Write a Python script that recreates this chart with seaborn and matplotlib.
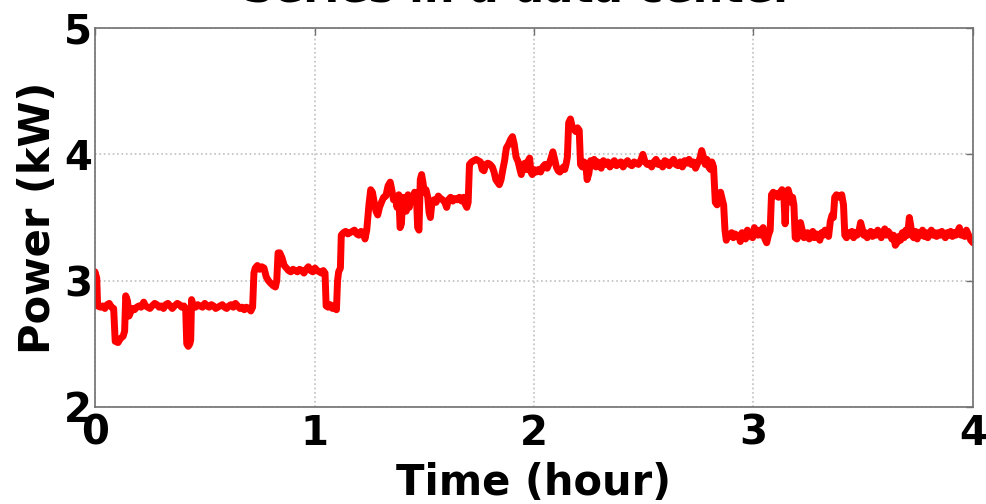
import matplotlib
matplotlib.use("Agg")
import matplotlib.pyplot as plt
import seaborn as sns
import pandas as pd

# Power draw of a server group over four hours
hours = [
    0.000, 0.008, 0.012, 0.025, 0.035, 0.045, 0.055, 0.065, 0.075, 0.085,
    0.092, 0.105, 0.115, 0.128, 0.135, 0.140, 0.148, 0.155, 0.162, 0.170,
    0.180, 0.190, 0.200, 0.210, 0.222, 0.230, 0.240, 0.250, 0.260, 0.272,
    0.282, 0.292, 0.302, 0.312, 0.322, 0.332, 0.342, 0.352, 0.362, 0.375,
    0.385, 0.395, 0.405, 0.413, 0.418, 0.425, 0.432, 0.436, 0.440, 0.448,
    0.458, 0.468, 0.478, 0.490, 0.500, 0.510, 0.520, 0.530, 0.540, 0.550,
    0.560, 0.570, 0.580, 0.590, 0.600, 0.610, 0.620, 0.630, 0.640, 0.650,
    0.660, 0.670, 0.680, 0.690, 0.700, 0.710, 0.718, 0.724, 0.730, 0.740,
    0.750, 0.760, 0.770, 0.780, 0.790, 0.800, 0.812, 0.822, 0.828, 0.834,
    0.842, 0.852, 0.862, 0.872, 0.882, 0.892, 0.902, 0.912, 0.922, 0.932,
    0.942, 0.952, 0.962, 0.972, 0.982, 0.992, 1.002, 1.012, 1.022, 1.032,
    1.040, 1.048, 1.053, 1.062, 1.072, 1.082, 1.092, 1.100, 1.105, 1.110,
    1.118, 1.122, 1.132, 1.142, 1.152, 1.162, 1.172, 1.182, 1.192, 1.202,
    1.212, 1.222, 1.230, 1.238, 1.248, 1.256, 1.264, 1.272, 1.280, 1.288,
    1.296, 1.305, 1.315, 1.325, 1.335, 1.345, 1.352, 1.360, 1.368, 1.376,
    1.384, 1.390, 1.396, 1.402, 1.410, 1.418, 1.426, 1.432, 1.440, 1.448,
    1.456, 1.464, 1.470, 1.476, 1.482, 1.488, 1.494, 1.500, 1.508, 1.516,
    1.522, 1.528, 1.534, 1.544, 1.554, 1.564, 1.574, 1.584, 1.594, 1.602,
    1.610, 1.620, 1.630, 1.640, 1.650, 1.660, 1.670, 1.680, 1.688, 1.694,
    1.700, 1.706, 1.716, 1.726, 1.736, 1.746, 1.756, 1.764, 1.772, 1.780,
    1.790, 1.800, 1.810, 1.818, 1.826, 1.834, 1.842, 1.850, 1.858, 1.866,
    1.874, 1.884, 1.894, 1.902, 1.910, 1.918, 1.928, 1.936, 1.942, 1.950,
    1.958, 1.966, 1.974, 1.980, 1.986, 1.992, 2.000, 2.010, 2.020, 2.030,
    2.040, 2.050, 2.060, 2.070, 2.078, 2.086, 2.094, 2.102, 2.110, 2.118,
    2.126, 2.134, 2.140, 2.146, 2.152, 2.158, 2.166, 2.174, 2.182, 2.190,
    2.198, 2.206, 2.212, 2.220, 2.228, 2.236, 2.242, 2.250, 2.258, 2.266,
    2.274, 2.282, 2.290, 2.298, 2.306, 2.316, 2.326, 2.336, 2.346, 2.356,
    2.366, 2.376, 2.386, 2.396, 2.406, 2.416, 2.426, 2.436, 2.446, 2.456,
    2.466, 2.476, 2.486, 2.496, 2.506, 2.516, 2.526, 2.536, 2.546, 2.556,
    2.566, 2.576, 2.586, 2.596, 2.606, 2.616, 2.626, 2.636, 2.646, 2.656,
    2.666, 2.676, 2.686, 2.696, 2.706, 2.716, 2.726, 2.736, 2.746, 2.756,
    2.764, 2.772, 2.780, 2.788, 2.796, 2.804, 2.810, 2.818, 2.826, 2.834,
    2.842, 2.850, 2.858, 2.864, 2.870, 2.876, 2.884, 2.892, 2.900, 2.908,
    2.916, 2.924, 2.932, 2.940, 2.948, 2.956, 2.964, 2.972, 2.980, 2.988,
    2.996, 3.004, 3.012, 3.020, 3.028, 3.036, 3.044, 3.052, 3.060, 3.068,
    3.076, 3.082, 3.090, 3.098, 3.106, 3.114, 3.122, 3.130, 3.138, 3.144,
    3.150, 3.158, 3.164, 3.172, 3.178, 3.184, 3.190, 3.198, 3.206, 3.214,
    3.222, 3.230, 3.238, 3.246, 3.254, 3.262, 3.270, 3.278, 3.286, 3.294,
    3.302, 3.310, 3.318, 3.326, 3.334, 3.342, 3.350, 3.358, 3.364, 3.370,
    3.378, 3.386, 3.394, 3.402, 3.410, 3.416, 3.424, 3.432, 3.440, 3.448,
    3.456, 3.464, 3.472, 3.480, 3.488, 3.494, 3.502, 3.510, 3.518, 3.526,
    3.534, 3.542, 3.550, 3.558, 3.566, 3.574, 3.582, 3.590, 3.598, 3.606,
    3.614, 3.622, 3.630, 3.638, 3.646, 3.654, 3.662, 3.670, 3.678, 3.686,
    3.694, 3.702, 3.710, 3.716, 3.722, 3.730, 3.738, 3.746, 3.754, 3.762,
    3.770, 3.778, 3.786, 3.794, 3.802, 3.810, 3.818, 3.826, 3.834, 3.842,
    3.850, 3.858, 3.866, 3.874, 3.882, 3.890, 3.898, 3.906, 3.914, 3.922,
    3.930, 3.938, 3.946, 3.954, 3.962, 3.970, 3.980, 3.990, 4.000,
]

power_kw = [
    3.07, 3.02, 2.80, 2.79, 2.80, 2.78, 2.81, 2.82, 2.79, 2.78,
    2.52, 2.51, 2.54, 2.56, 2.60, 2.88, 2.84, 2.72, 2.75, 2.78,
    2.77, 2.79, 2.80, 2.79, 2.83, 2.80, 2.79, 2.78, 2.80, 2.82,
    2.81, 2.79, 2.80, 2.78, 2.81, 2.82, 2.80, 2.78, 2.80, 2.82,
    2.81, 2.79, 2.80, 2.78, 2.50, 2.48, 2.50, 2.53, 2.85, 2.80,
    2.79, 2.81, 2.80, 2.79, 2.82, 2.80, 2.79, 2.81, 2.80, 2.78,
    2.79, 2.80, 2.81, 2.79, 2.78, 2.80, 2.81, 2.79, 2.82, 2.80,
    2.78, 2.79, 2.77, 2.79, 2.78, 2.76, 2.79, 3.06, 3.10, 3.12,
    3.09, 3.11, 3.10, 3.03, 3.00, 2.98, 2.96, 2.95, 3.00, 3.22,
    3.22, 3.18, 3.12, 3.10, 3.08, 3.07, 3.09, 3.08, 3.07, 3.09,
    3.08, 3.06, 3.09, 3.11, 3.08, 3.07, 3.10, 3.08, 3.07, 3.06,
    3.08, 3.06, 2.80, 2.79, 2.81, 2.78, 2.80, 2.77, 3.00, 3.07,
    3.10, 3.36, 3.38, 3.39, 3.37, 3.38, 3.39, 3.40, 3.37, 3.36,
    3.39, 3.38, 3.33, 3.40, 3.60, 3.72, 3.70, 3.62, 3.55, 3.52,
    3.58, 3.62, 3.66, 3.67, 3.75, 3.78, 3.72, 3.64, 3.66, 3.58,
    3.68, 3.42, 3.45, 3.66, 3.62, 3.55, 3.68, 3.58, 3.66, 3.64,
    3.70, 3.68, 3.42, 3.40, 3.80, 3.84, 3.78, 3.70, 3.72, 3.66,
    3.54, 3.50, 3.60, 3.64, 3.62, 3.67, 3.65, 3.64, 3.62, 3.58,
    3.64, 3.66, 3.63, 3.65, 3.64, 3.66, 3.63, 3.66, 3.60, 3.58,
    3.62, 3.92, 3.94, 3.95, 3.96, 3.95, 3.94, 3.88, 3.87, 3.92,
    3.93, 3.92, 3.90, 3.86, 3.80, 3.78, 3.76, 3.80, 3.88, 3.95,
    4.05, 4.08, 4.12, 4.14, 4.08, 3.98, 3.94, 3.88, 3.84, 3.90,
    3.93, 3.88, 3.95, 3.97, 3.86, 3.84, 3.88, 3.86, 3.88, 3.86,
    3.90, 3.92, 3.89, 3.93, 3.97, 4.02, 3.96, 3.90, 3.87, 3.86,
    3.88, 3.90, 3.88, 3.92, 3.98, 4.25, 4.28, 4.22, 4.20, 4.18,
    4.21, 4.19, 3.92, 3.90, 3.94, 3.92, 3.80, 3.85, 3.95, 3.92,
    3.96, 3.90, 3.94, 3.93, 3.89, 3.95, 3.92, 3.94, 3.90, 3.93,
    3.95, 3.91, 3.93, 3.94, 3.90, 3.93, 3.95, 3.92, 3.91, 3.94,
    3.93, 3.92, 3.95, 4.00, 3.94, 3.92, 3.93, 3.90, 3.94, 3.96,
    3.92, 3.93, 3.90, 3.95, 3.94, 3.91, 3.94, 3.96, 3.92, 3.91,
    3.94, 3.90, 3.95, 3.93, 3.96, 3.92, 3.94, 3.89, 3.93, 3.97,
    4.03, 3.98, 3.92, 3.96, 3.90, 3.88, 3.94, 3.90, 3.62, 3.60,
    3.66, 3.70, 3.64, 3.60, 3.40, 3.32, 3.36, 3.35, 3.38, 3.34,
    3.37, 3.35, 3.36, 3.31, 3.38, 3.36, 3.33, 3.40, 3.36, 3.35,
    3.34, 3.42, 3.38, 3.36, 3.40, 3.36, 3.42, 3.33, 3.30, 3.36,
    3.40, 3.68, 3.70, 3.67, 3.69, 3.66, 3.70, 3.72, 3.68, 3.45,
    3.70, 3.72, 3.68, 3.62, 3.66, 3.60, 3.34, 3.33, 3.37, 3.46,
    3.40, 3.34, 3.36, 3.38, 3.33, 3.36, 3.39, 3.34, 3.37, 3.35,
    3.32, 3.38, 3.36, 3.40, 3.38, 3.35, 3.47, 3.52, 3.50, 3.66,
    3.68, 3.66, 3.67, 3.68, 3.60, 3.36, 3.34, 3.38, 3.36, 3.39,
    3.34, 3.38, 3.36, 3.39, 3.46, 3.42, 3.36, 3.38, 3.34, 3.37,
    3.39, 3.35, 3.38, 3.36, 3.40, 3.37, 3.34, 3.38, 3.41, 3.36,
    3.39, 3.37, 3.33, 3.36, 3.28, 3.30, 3.35, 3.32, 3.38, 3.34,
    3.40, 3.36, 3.50, 3.44, 3.36, 3.34, 3.39, 3.33, 3.38, 3.36,
    3.40, 3.35, 3.38, 3.34, 3.37, 3.40, 3.36, 3.38, 3.35, 3.38,
    3.36, 3.39, 3.36, 3.34, 3.38, 3.36, 3.39, 3.35, 3.38, 3.36,
    3.39, 3.42, 3.36, 3.38, 3.35, 3.40, 3.36, 3.32, 3.30,
]

x_ticks = [0, 1, 2, 3, 4]
y_ticks = [2, 3, 4, 5]

title_text = "Series in a data center"
x_label = "Time (hour)"
y_label = "Power (kW)"

sns.set_style("white")
plt.rcParams["font.family"] = ["DejaVu Sans"]
plt.rcParams["font.weight"] = "bold"
plt.rcParams["text.color"] = "black"
plt.rcParams["axes.labelcolor"] = "black"

df = pd.DataFrame({"hour": hours, "kw": power_kw})

fig = plt.figure(figsize=(9.87, 5.04), dpi=100)
ax = fig.add_axes([95 / 987, 1 - 407 / 504, (973 - 95) / 987, (407 - 28) / 504])

sns.lineplot(data=df, x="hour", y="kw", color="#ff0000", linewidth=5,
             estimator=None, sort=False, ax=ax)

ax.set_xlim(0, 4)
ax.set_ylim(2, 5)
ax.set_xticks(x_ticks)
ax.set_yticks(y_ticks)
ax.set_xticklabels([str(v) for v in x_ticks], fontsize=29, fontweight="bold",
                   color="black")
ax.set_yticklabels([str(v) for v in y_ticks], fontsize=29, fontweight="bold",
                   color="black")

ax.grid(True, linestyle=":", color="#c0c0c0", linewidth=1.2)
ax.set_axisbelow(True)
for s in ax.spines.values():
    s.set_color("#707070")
    s.set_linewidth(1.2)
ax.tick_params(direction="in", top=True, right=True, length=5, width=1,
               color="#707070", labelcolor="black")
ax.tick_params(axis="x", pad=5)
ax.tick_params(axis="y", pad=2)

ax.set_xlabel(x_label, fontsize=30, fontweight="bold", color="black", labelpad=6)
ax.set_ylabel(y_label, fontsize=30, fontweight="bold", color="black", labelpad=4)
ax.set_title(title_text, fontsize=31, fontweight="bold", color="black",
             pad=19, x=0.483)

fig.savefig("out.png", dpi=100)
